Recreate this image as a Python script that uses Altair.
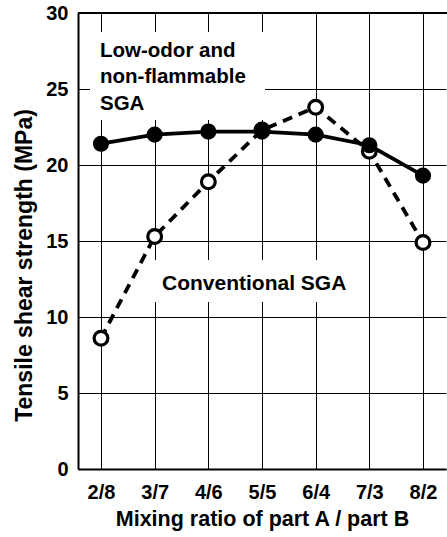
import altair as alt
import pandas as pd

ratios = ["2/8", "3/7", "4/6", "5/5", "6/4", "7/3", "8/2"]
low_odor = [21.4, 22.0, 22.2, 22.2, 22.0, 21.3, 19.3]
conventional = [8.6, 15.3, 18.9, 22.3, 23.8, 20.9, 14.9]

FONT = "Liberation Sans"
W, H = 368, 456

df = pd.DataFrame({"ratio": ratios, "low": low_odor, "conv": conventional})

x_enc = alt.X(
    "ratio:O",
    sort=ratios,
    scale=alt.Scale(type="point", padding=0.4286),
    axis=alt.Axis(
        title="Mixing ratio of part A / part B",
        labelAngle=0,
        ticks=False,
        grid=True,
        gridColor="#000000",
        gridWidth=1,
        gridOpacity=1,
        domainColor="#000000",
        domainWidth=2,
        labelFont=FONT,
        labelFontWeight="bold",
        labelFontSize=20,
        labelColor="#000000",
        labelPadding=13,
        titleFont=FONT,
        titleFontWeight="bold",
        titleFontSize=21.5,
        titleColor="#000000",
        titlePadding=6,
    ),
)

y_scale = alt.Scale(domain=[0, 30], nice=False, zero=True)
y_axis = alt.Axis(
    title="Tensile shear strength (MPa)",
    values=[0, 5, 10, 15, 20, 25, 30],
    ticks=False,
    grid=True,
    gridColor="#000000",
    gridWidth=1,
    gridOpacity=1,
    domainColor="#000000",
    domainWidth=2,
    labelFont=FONT,
    labelFontWeight="bold",
    labelFontSize=20,
    labelColor="#000000",
    labelPadding=10,
    titleFont=FONT,
    titleFontWeight="bold",
    titleFontSize=23,
    titleColor="#000000",
    titlePadding=9,
    titleY=252,
)

base = alt.Chart(df)

conv_line = base.mark_line(color="#000000", strokeWidth=3.8, strokeDash=[10, 7]).encode(
    x=x_enc, y=alt.Y("conv:Q", scale=y_scale, axis=y_axis)
)
conv_pts = base.mark_point(
    shape="circle", filled=True, fill="#ffffff", stroke="#000000", strokeWidth=3.2, size=190, opacity=1
).encode(x=x_enc, y=alt.Y("conv:Q", scale=y_scale))
low_line = base.mark_line(color="#000000", strokeWidth=3.8).encode(
    x=x_enc, y=alt.Y("low:Q", scale=y_scale)
)
low_pts = base.mark_point(
    shape="circle", filled=True, fill="#000000", stroke="#000000", size=200, opacity=1
).encode(x=x_enc, y=alt.Y("low:Q", scale=y_scale))

top_border = alt.Chart(pd.DataFrame({"v": [30]})).mark_rule(color="#000000", strokeWidth=2).encode(
    y=alt.Y("v:Q", scale=y_scale), x=alt.value(0), x2=alt.value(W + 2)
)

box1 = alt.Chart(pd.DataFrame({"k": [0]})).mark_rect(color="#ffffff").encode(
    x=alt.value(12), x2=alt.value(187), y=alt.value(19), y2=alt.value(107)
)
text1 = alt.Chart(pd.DataFrame({"k": [0]})).mark_text(
    text=["Low-odor and", "non-flammable", "SGA"],
    align="left",
    baseline="alphabetic",
    font=FONT,
    fontWeight="bold",
    fontSize=20.5,
    lineHeight=26.5,
    color="#000000",
).encode(x=alt.value(22), y=alt.value(43.7))

box2 = alt.Chart(pd.DataFrame({"k": [0]})).mark_rect(color="#ffffff").encode(
    x=alt.value(72), x2=alt.value(286), y=alt.value(247), y2=alt.value(289)
)
text2 = alt.Chart(pd.DataFrame({"k": [0]})).mark_text(
    text="Conventional SGA",
    align="left",
    baseline="alphabetic",
    font=FONT,
    fontWeight="bold",
    fontSize=21,
    color="#000000",
).encode(x=alt.value(84), y=alt.value(277))

chart = (
    alt.layer(conv_line, top_border, box1, box2, text1, text2, conv_pts, low_line, low_pts)
    .properties(
        width=W,
        height=H,
        autosize=alt.AutoSizeParams(type="none"),
        padding={"left": 78, "top": 13, "right": 1, "bottom": 68},
        background="#ffffff",
    )
    .configure_view(stroke=None)
)

chart.save("out.html", embed_options={"renderer": "svg", "actions": False})
